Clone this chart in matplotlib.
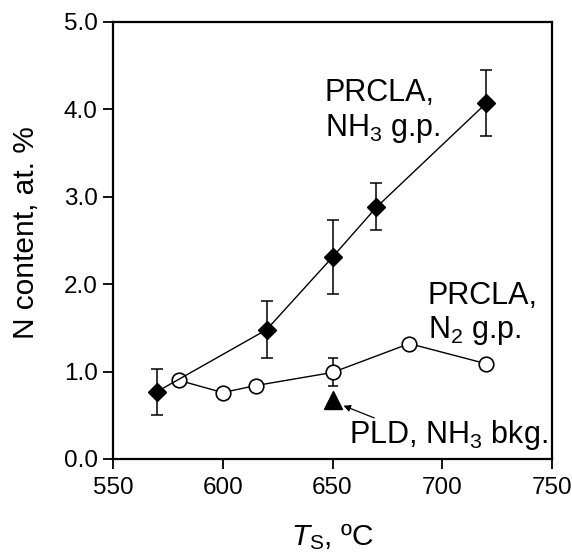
import matplotlib
matplotlib.use("Agg")
import matplotlib.pyplot as plt
import numpy as np

plt.rcParams['font.family'] = ['Liberation Sans', 'DejaVu Sans']
plt.rcParams['mathtext.fontset'] = 'custom'
plt.rcParams['mathtext.rm'] = 'Liberation Sans'
plt.rcParams['mathtext.it'] = 'Liberation Sans:italic'
plt.rcParams['mathtext.bf'] = 'Liberation Sans:bold'

# PRCLA, NH3 g.p.
nh3_T = [570, 620, 650, 670, 720]
nh3_N = [0.77, 1.48, 2.31, 2.88, 4.07]
nh3_lo = [0.50, 1.16, 1.89, 2.62, 3.69]
nh3_hi = [1.03, 1.81, 2.73, 3.16, 4.45]

# PRCLA, N2 g.p.
n2_T = [580, 600, 615, 650, 685, 720]
n2_N = [0.90, 0.76, 0.84, 0.99, 1.32, 1.09]
n2_err_T = [650]
n2_err_N = [0.99]
n2_err_lo = [0.83]
n2_err_hi = [1.15]

# PLD, NH3 bkg.
pld_T = [650]
pld_N = [0.68]

xticks = [550, 600, 650, 700, 750]
yticks = [0.0, 1.0, 2.0, 3.0, 4.0, 5.0]

fig = plt.figure(figsize=(5.72, 5.54), dpi=100)
ax = fig.add_axes([0.1976, 0.1715, 0.7674, 0.7888])

# error bars
ax.errorbar(nh3_T, nh3_N,
            yerr=[np.array(nh3_N) - np.array(nh3_lo), np.array(nh3_hi) - np.array(nh3_N)],
            fmt='none', ecolor='black', elinewidth=1.1, capsize=4.2, capthick=1.1, zorder=2)
ax.errorbar(n2_err_T, n2_err_N,
            yerr=[np.array(n2_err_N) - np.array(n2_err_lo), np.array(n2_err_hi) - np.array(n2_err_N)],
            fmt='none', ecolor='black', elinewidth=1.1, capsize=3.6, capthick=1.1, zorder=2)

ax.plot(nh3_T, nh3_N, color='black', lw=1.0, marker='D', ms=9,
        mfc='black', mec='black', zorder=4)
ax.plot(n2_T, n2_N, color='black', lw=1.0, marker='o', ms=10.5,
        mfc='white', mec='black', mew=1.2, zorder=3)
ax.plot(pld_T, pld_N, linestyle='none', marker='^', ms=13,
        mfc='black', mec='black', zorder=4)

ax.set_xlim(550, 750)
ax.set_ylim(0, 5)
ax.set_xticks(xticks)
ax.set_yticks(yticks)
ax.set_yticklabels([f"{v:.1f}" for v in yticks])
ax.tick_params(axis='both', direction='out', length=7, width=1.3, labelsize=17.5,
               top=False, right=False)
ax.tick_params(axis='x', pad=6)
ax.tick_params(axis='y', pad=4)
for s in ax.spines.values():
    s.set_linewidth(1.6)

ax.set_xlabel(r"$T_\mathrm{S}$, ºC", fontsize=21.5, labelpad=16)
ax.set_ylabel("N content, at. %", fontsize=21.5, labelpad=17, y=0.517)

ax.text(646.5, 3.70, "PRCLA,\nNH$_3$ g.p.", fontsize=22, ha='left', va='baseline', linespacing=1.15)
ax.text(693.5, 1.38, "PRCLA,\nN$_2$ g.p.", fontsize=22, ha='left', va='baseline', linespacing=1.15)
ax.text(657.5, 0.18, "PLD, NH$_3$ bkg.", fontsize=22, ha='left', va='baseline')
ax.annotate("", xy=(655.0, 0.61), xytext=(669.0, 0.47),
            arrowprops=dict(arrowstyle='-|>', color='black', lw=0.9,
                            mutation_scale=10, shrinkA=0, shrinkB=0))

fig.savefig("out.png", dpi=100)
